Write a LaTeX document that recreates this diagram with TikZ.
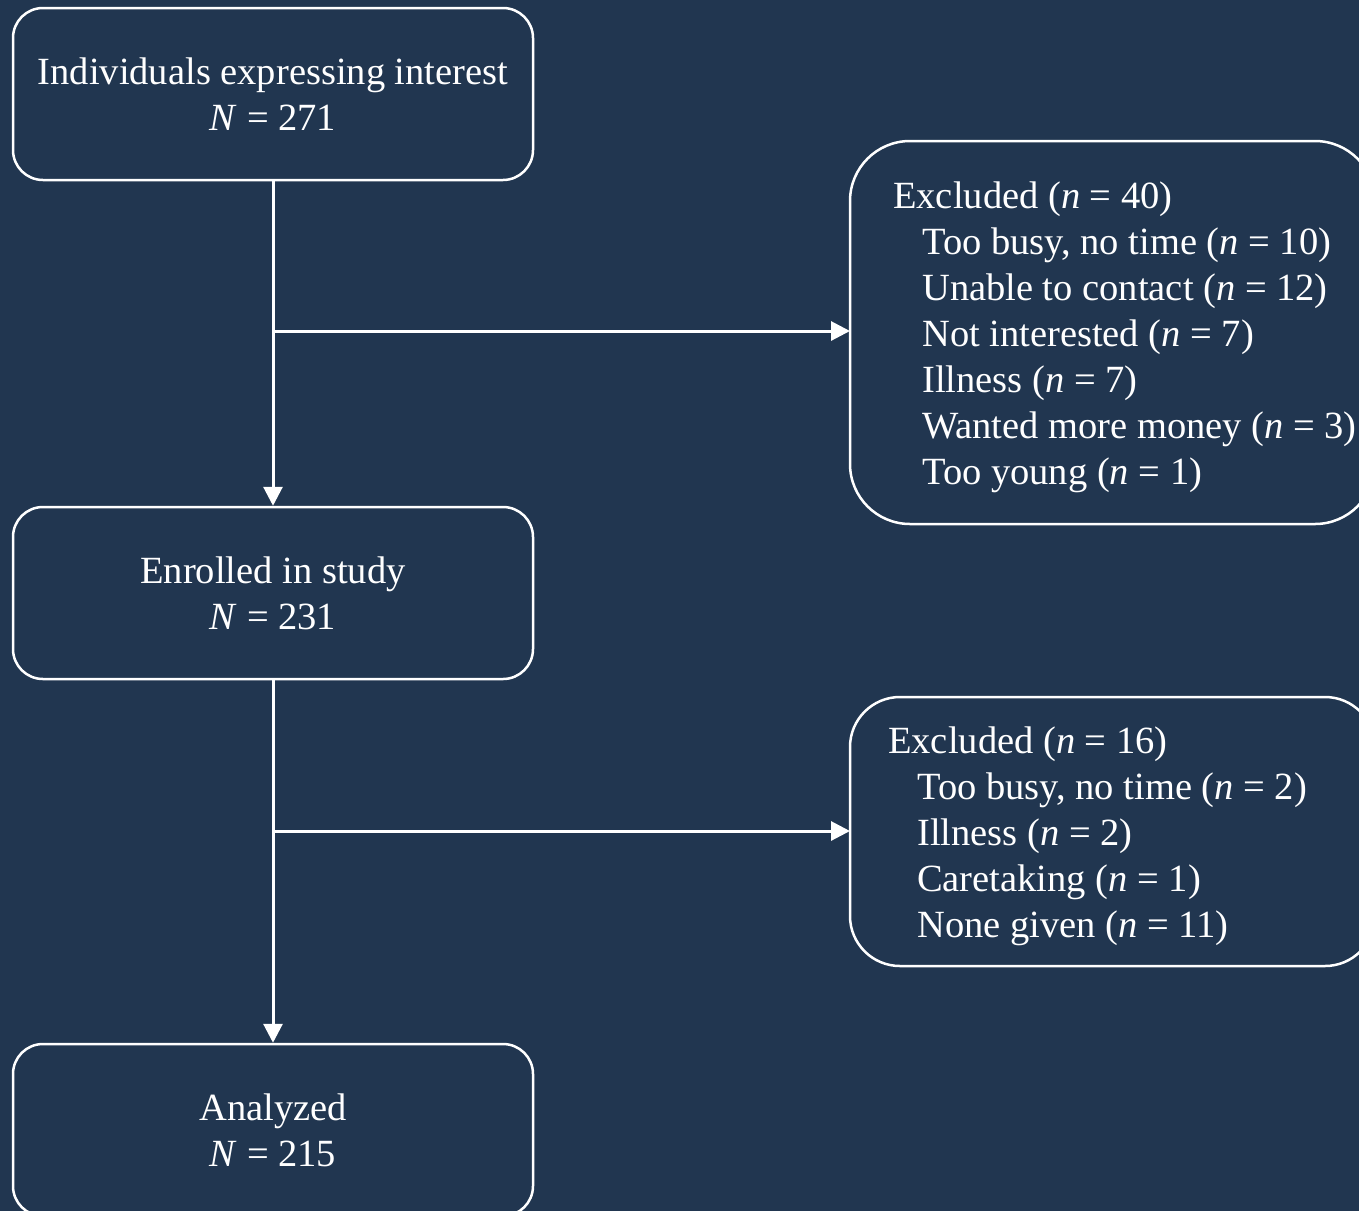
\documentclass[tikz,border=0pt]{standalone}
\usepackage{fontspec}
\setmainfont{Liberation Serif}
\usetikzlibrary{arrows.meta}
\definecolor{navy}{RGB}{33,54,80}
\begin{document}
\begin{tikzpicture}[x=1pt,y=-1pt,
  every node/.style={text=white, font=\fontsize{38.5}{46}\selectfont},
  stagebox/.style={draw=white, line width=2.5pt, rounded corners=30pt, minimum width=520pt, minimum height=172pt, inner sep=0pt},
  sidebox/.style={draw=white, line width=2.5pt, inner sep=0pt},
  flow/.style={draw=white, line width=3pt, -{Triangle[length=19pt,width=19pt]}},
  lbl/.style={align=left, anchor=north west, inner sep=0pt}
]
% canvas
\fill[navy] (0,0) rectangle (1359,1211);
\useasboundingbox (0,0) rectangle (1359,1211);

% main stages
\node[stagebox, align=center] (interest) at (273,94) {Individuals expressing interest\\\textit{N} = 271};
\node[stagebox, align=center] (enrolled) at (273,593) {Enrolled in study\\\textit{N} = 231};
\node[stagebox, align=center] (analyzed) at (273,1130) {Analyzed\\\textit{N} = 215};

% exclusion boxes
\draw[sidebox, rounded corners=60pt] (850,141) rectangle (1375,524);
\coordinate (excA) at (850,331);
\node[lbl] (excAtxt) at (893,182) {Excluded (\textit{n} = 40)\\
\hspace*{29pt}Too busy, no time (\textit{n} = 10)\\
\hspace*{29pt}Unable to contact (\textit{n} = 12)\\
\hspace*{29pt}Not interested (\textit{n} = 7)\\
\hspace*{29pt}Illness (\textit{n} = 7)\\
\hspace*{29pt}Wanted more money (\textit{n} = 3)\\
\hspace*{29pt}Too young (\textit{n} = 1)};

\draw[sidebox, rounded corners=50pt] (850,697) rectangle (1375,966);
\coordinate (excB) at (850,831);
\node[lbl] (excBtxt) at (888,727) {Excluded (\textit{n} = 16)\\
\hspace*{29pt}Too busy, no time (\textit{n} = 2)\\
\hspace*{29pt}Illness (\textit{n} = 2)\\
\hspace*{29pt}Caretaking (\textit{n} = 1)\\
\hspace*{29pt}None given (\textit{n} = 11)};

% connectors
\draw[flow] (interest.south) -- (enrolled.north);
\coordinate (splitA) at (273,331);
\draw[flow] (splitA) -- (excA);
\draw[flow] (enrolled.south) -- (analyzed.north);
\coordinate (splitB) at (273,831);
\draw[flow] (splitB) -- (excB);
\end{tikzpicture}
\end{document}
